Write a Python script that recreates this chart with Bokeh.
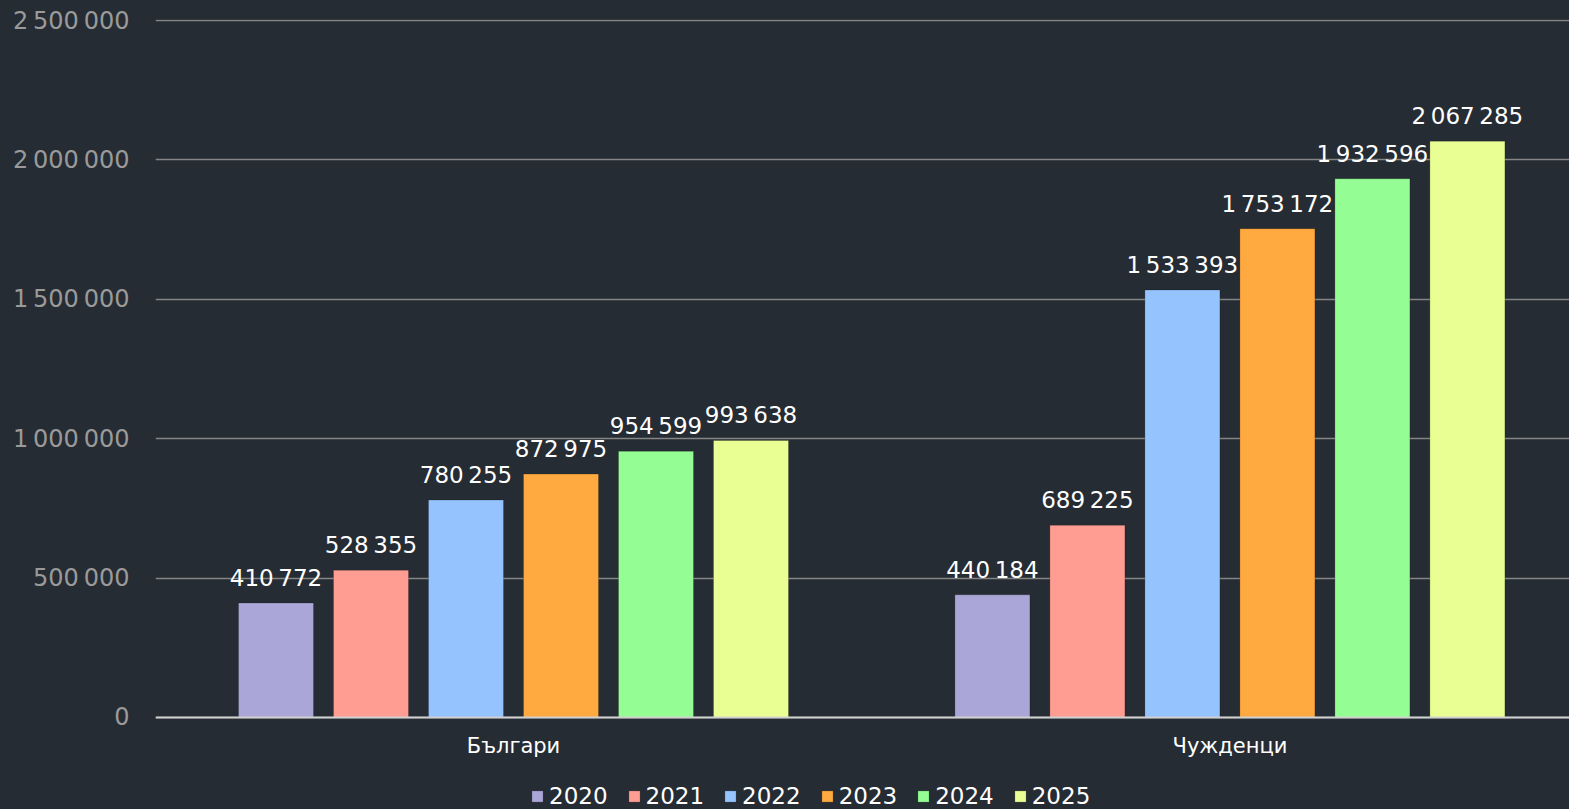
from bokeh.plotting import figure
from bokeh.models import (ColumnDataSource, Range1d, FixedTicker, Legend, LegendItem,
                          CustomJSTickFormatter, LabelSet, Span)
from bokeh.core.properties import value
from bokeh.embed import file_html
from bokeh.resources import INLINE

categories = ["Българи", "Чужденци"]
years = ["2020", "2021", "2022", "2023", "2024", "2025"]
values = {
    "2020": [410772, 440184],
    "2021": [528355, 689225],
    "2022": [780255, 1533393],
    "2023": [872975, 1753172],
    "2024": [954599, 1932596],
    "2025": [993638, 2067285],
}
colors = ["#aaa6d7", "#ff9d93", "#94c3fe", "#ffa941", "#94fe94", "#e9fe93"]
y_ticks = [0, 500000, 1000000, 1500000, 2000000, 2500000]

BG = "#262c33"
FONT = "DejaVu Sans"
NNBSP = "\u202f"

def fmt(v):
    return f"{v:,}".replace(",", NNBSP)

# frame runs to the bottom of the page so the legend can sit inside it
p = figure(width=1569, height=809, output_backend="svg", toolbar_location=None,
           x_range=Range1d(0.0003, 1.974), y_range=Range1d(-330000, 2503600),
           background_fill_color=BG, border_fill_color=BG,
           outline_line_color=None, outline_line_alpha=0,
           min_border_left=155, min_border_right=0, min_border_top=19, min_border_bottom=0)
p.styles = {"background-color": BG}

step = 0.1326
width = 0.1047
items = []
for i, (yr, col) in enumerate(zip(years, colors)):
    off = (i - 2.5) * step
    xs = [k + 0.5 + off for k in range(len(categories))]
    vals = values[yr]
    src = ColumnDataSource(dict(x=xs, top=vals, label=[fmt(v) for v in vals]))
    r = p.vbar(x="x", top="top", width=width, bottom=0, source=src,
               fill_color=col, line_color="#000000", line_alpha=0.18, line_width=1)
    items.append(LegendItem(label=yr, renderers=[r]))
    lbl = LabelSet(x="x", y="top", text="label", source=src, text_align="center",
                   text_baseline="bottom", y_offset=12, text_color="#ffffff",
                   text_font_size="23px", text_font=value(FONT))
    p.add_layout(lbl)

# y axis
p.yaxis.ticker = FixedTicker(ticks=y_ticks)
p.yaxis.formatter = CustomJSTickFormatter(
    code="return tick.toLocaleString('en-US').replace(/,/g, '\\u202f');")
p.yaxis.axis_line_color = None
p.yaxis.axis_line_alpha = 0
p.yaxis.major_tick_line_color = None
p.yaxis.minor_tick_line_color = None
p.yaxis.major_label_standoff = 20
p.yaxis.major_label_text_color = "#9a9a9a"
p.yaxis.major_label_text_font_size = "24px"
p.yaxis.major_label_text_font = FONT

# x axis: base line and category labels inside the frame
p.xaxis.visible = False
p.add_layout(Span(location=0, dimension="width", line_color="#d0d0d0", line_width=2))
cat_src = ColumnDataSource(dict(x=[k + 0.5 for k in range(len(categories))],
                                y=[0] * len(categories), label=categories))
p.add_layout(LabelSet(x="x", y="y", text="label", source=cat_src, text_align="center",
                      text_baseline="middle", y_offset=-29, text_color="#ffffff",
                      text_font_size="21px", text_font=value(FONT)))

p.xgrid.grid_line_color = None
p.ygrid.grid_line_color = "#858585"
p.ygrid.grid_line_width = 1.5

legend = Legend(items=items, orientation="horizontal", location=(375, 0),
                background_fill_alpha=0, border_line_color=None,
                label_text_color="#ffffff", label_text_font_size="23px", label_text_font=FONT,
                glyph_width=14, glyph_height=14, label_standoff=5, spacing=19,
                padding=0, margin=0, label_height=22)
p.add_layout(legend, "center")

open("out.html", "w").write(file_html(p, INLINE))
